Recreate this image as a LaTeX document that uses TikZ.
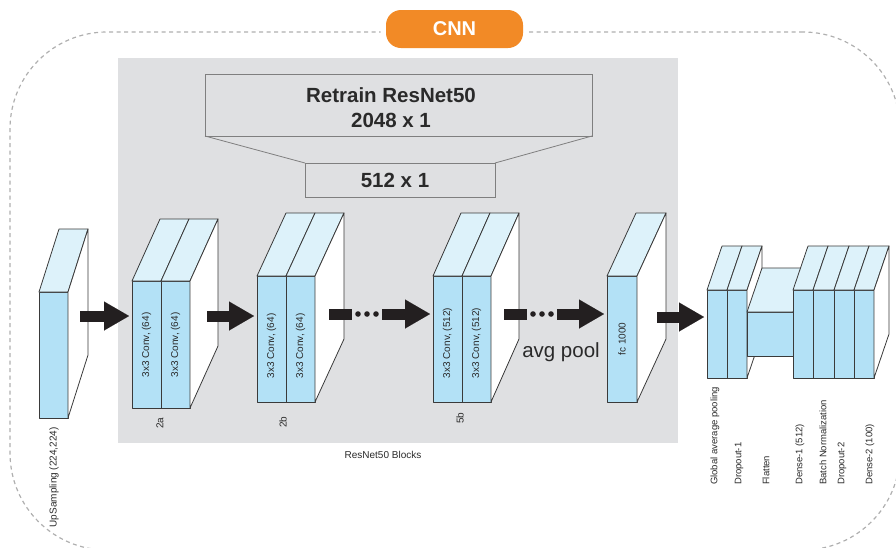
\documentclass[tikz,border=0pt]{standalone}
\usepackage{fontspec}
\setmainfont{Liberation Sans}
\usetikzlibrary{arrows.meta,calc}
\definecolor{frontblue}{HTML}{B3E1F6}
\definecolor{topblue}{HTML}{DDF2FA}
\definecolor{panelgray}{HTML}{DFE0E2}
\definecolor{cnnorange}{HTML}{F28A26}
\definecolor{edgegray}{HTML}{3A3A3A}
\definecolor{boxline}{HTML}{7F7F7F}
\definecolor{dashgray}{HTML}{AFAFAF}
\definecolor{arrowblack}{HTML}{231F20}
\definecolor{txtgray}{HTML}{2A2A2A}
\tikzset{
  face/.style={draw=edgegray, line width=0.8pt, line join=round},
  frontface/.style={face, fill=frontblue, rectangle, inner sep=0pt, outer sep=0pt},
  topface/.style={face, fill=topblue},
  sideface/.style={face, fill=white},
  vlabel/.style={rotate=90, inner sep=0pt, font=\fontsize{10}{12}\selectfont, text=txtgray},
  rlabel/.style={rotate=90, inner sep=0pt, anchor=west, font=\fontsize{9.5}{11}\selectfont, text=txtgray},
  dimbox/.style={draw=boxline, line width=0.8pt, fill=panelgray, rectangle, inner sep=0pt, outer sep=0pt},
  bigtext/.style={font=\fontsize{20.5}{25}\selectfont\bfseries, text=txtgray, align=center, inner sep=0pt},
  shaft/.style={draw=arrowblack, line width=11pt},
  bigarrow/.style={draw=arrowblack, line width=11pt, -{Triangle[length=25pt,width=29pt,line width=0.01pt]}, shorten >=3pt},
  dotmark/.style={fill=arrowblack}
}
\newcommand{\ff}[5]{\node[frontface, minimum width={(#4-#2)*1pt}, minimum height={(#5-#3)*1pt}] (#1) at ({(#2+#4)/2},{(#3+#5)/2}) {};}
\newcommand{\topof}[3]{\draw[topface] (#1.north west) -- ++(#2,#3) -- ($(#1.north east)+(#2,#3)$) -- (#1.north east) -- cycle;}
\newcommand{\sideof}[3]{\draw[sideface] (#1.north east) -- ++(#2,#3) -- ($(#1.south east)+(#2,#3)$) -- (#1.south east) -- cycle;}
\begin{document}
\begin{tikzpicture}[x=1pt,y=-1pt]
\useasboundingbox (0,0) rectangle (896,547);
\clip (0,0) rectangle (896,547);
% outer dashed frame
\node[draw=dashgray, line width=1.2pt, dash pattern=on 4pt off 3.5pt, rounded corners=97pt, minimum width=890pt, minimum height=518pt, inner sep=0pt] (frame) at (455,291) {};
% CNN pill
\node[fill=cnnorange, preaction={draw=white, line width=11pt}, rounded corners=15pt, minimum width=137pt, minimum height=38pt, inner sep=0pt, text=white, font=\fontsize{20}{24}\selectfont\bfseries] (cnn) at (454.5,29) {CNN};
% ResNet panel
\node[fill=panelgray, minimum width=560pt, minimum height=385pt, inner sep=0pt] (panel) at (398,250.5) {};
\node[font=\fontsize{10}{12}\selectfont, text=txtgray, inner sep=0pt] (paneltxt) at (383,455) {ResNet50 Blocks};
% trapezoid boxes
\node[dimbox, minimum width=387pt, minimum height=62pt] (retrain) at (398.5,105) {};
\node[dimbox, minimum width=190pt, minimum height=34pt] (dim512) at (400,180) {};
\draw[boxline, line width=0.8pt] (retrain.south west) -- (dim512.north west);
\draw[boxline, line width=0.8pt] (retrain.south east) -- (dim512.north east);
\node[bigtext] (retraintxt) at (391,107.5) {Retrain ResNet50\\2048 x 1};
\node[bigtext] (dimtxt) at (395,180) {512 x 1};
% UpSampling
\ff{up}{39}{292}{68}{418}
\topof{up}{20}{-63}
\sideof{up}{20}{-63}
\node[vlabel, anchor=east] (uptxt) at (54,427) {UpSampling (224,224)};
% block 2a
\ff{a1}{132}{281}{161}{408}
\ff{a2}{161}{281}{190}{408}
\topof{a1}{28}{-62}
\topof{a2}{28}{-62}
\sideof{a2}{28}{-62}
\node[vlabel] (a1t) at (146.5,345) {3x3 Conv, (64)};
\node[vlabel] (a2t) at (175.5,345) {3x3 Conv, (64)};
\node[vlabel] (a2lab) at (160,423) {2a};
% block 2b
\ff{b1}{257}{276}{286}{402}
\ff{b2}{286}{276}{315}{402}
\topof{b1}{29}{-63}
\topof{b2}{29}{-63}
\sideof{b2}{29}{-63}
\node[vlabel] (b1t) at (271.5,346) {3x3 Conv, (64)};
\node[vlabel] (b2t) at (300.5,346) {3x3 Conv, (64)};
\node[vlabel] (b2lab) at (283,422) {2b};
% block 5b
\ff{e1}{433}{276}{462}{402}
\ff{e2}{462}{276}{491}{402}
\topof{e1}{28}{-63}
\topof{e2}{28}{-63}
\sideof{e2}{28}{-63}
\node[vlabel] (e1t) at (447.5,343) {3x3 Conv, (512)};
\node[vlabel] (e2t) at (476.5,343) {3x3 Conv, (512)};
\node[vlabel] (e2lab) at (460,418) {5b};
% fc 1000
\ff{fc}{607}{276}{637}{402}
\topof{fc}{29}{-63}
\sideof{fc}{29}{-63}
\node[vlabel] (fct) at (622,339) {fc 1000};
\node[font=\fontsize{20.5}{24}\selectfont, text=txtgray, inner sep=0pt] (avgpool) at (561,352) {avg pool};
% right group: GAP + Dropout-1
\ff{gap}{707}{290}{727}{378}
\ff{do1}{727}{290}{747}{378}
\topof{gap}{15}{-44}
\topof{do1}{15}{-44}
\sideof{do1}{15}{-44}
% Flatten
\ff{fl}{747}{312}{793}{356}
\topof{fl}{15}{-44}
% Dense group
\ff{d1}{793}{290}{813}{378}
\ff{bn}{813}{290}{834}{378}
\ff{do2}{834}{290}{854}{378}
\ff{d2}{854}{290}{874}{378}
\topof{d1}{15}{-44}
\topof{bn}{15}{-44}
\topof{do2}{15}{-44}
\topof{d2}{15}{-44}
\sideof{d2}{15}{-44}
% right labels
\node[rlabel] (gapt) at (715,485) {Global average pooling};
\node[rlabel] (do1t) at (739,485) {Dropout-1};
\node[rlabel] (flt) at (766,485) {Flatten};
\node[rlabel] (d1t) at (800,485) {Dense-1 (512)};
\node[rlabel] (bnt) at (823,485) {Batch Normalization};
\node[rlabel] (do2t) at (842,485) {Dropout-2};
\node[rlabel] (d2t) at (870,485) {Dense-2 (100)};
% arrows
\coordinate (s1) at (80,316);
\coordinate (s2) at (207,316);
\coordinate (s3) at (329,314);
\coordinate (s4) at (504,314);
\coordinate (s5) at (657,317);
\draw[bigarrow] (s1) -- (a1.west |- s1);
\draw[bigarrow] (s2) -- (b1.west |- s2);
\draw[shaft] (s3) -- ++(23,0);
\fill[dotmark] ($(s3)+(29,0)$) circle (2.8pt);
\fill[dotmark] ($(s3)+(38,0)$) circle (2.8pt);
\fill[dotmark] ($(s3)+(47,0)$) circle (2.8pt);
\draw[bigarrow] ($(s3)+(53,0)$) -- (e1.west |- s3);
\draw[shaft] (s4) -- ++(23,0);
\fill[dotmark] ($(s4)+(29,0)$) circle (2.8pt);
\fill[dotmark] ($(s4)+(38,0)$) circle (2.8pt);
\fill[dotmark] ($(s4)+(47,0)$) circle (2.8pt);
\draw[bigarrow] ($(s4)+(53,0)$) -- (fc.west |- s4);
\draw[bigarrow] (s5) -- (gap.west |- s5);
\end{tikzpicture}
\end{document}
